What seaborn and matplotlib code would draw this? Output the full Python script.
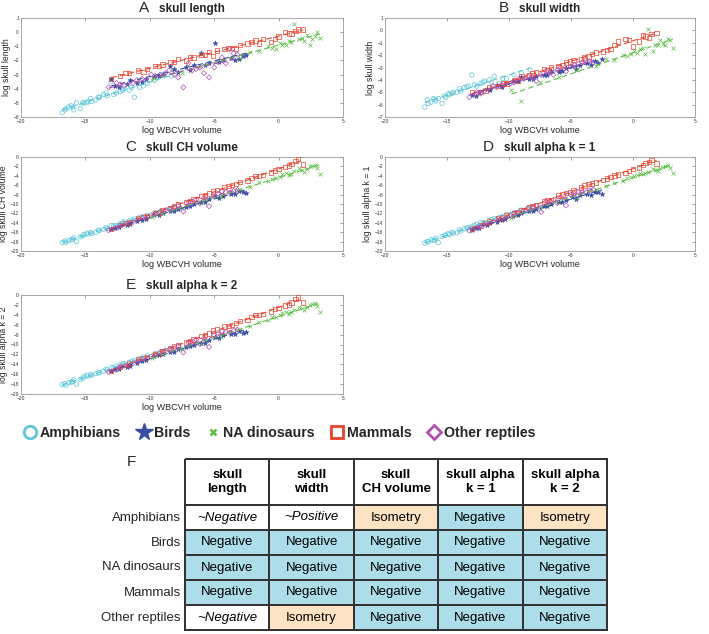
import numpy as np
import pandas as pd
import seaborn as sns
import matplotlib.pyplot as plt
from matplotlib.lines import Line2D
from matplotlib.colors import ListedColormap

sns.set_style("white")
plt.rcParams["font.family"] = ["Liberation Sans", "DejaVu Sans"]

groups = ["Amphibians", "Birds", "NA dinosaurs", "Mammals", "Other reptiles"]
colors = ["#5cc6d6", "#3b4ea6", "#5cbb45", "#e8422b", "#b24fb0"]
markers = ["o", "*", "x", "s", "D"]

panel_letters = ["A", "B", "C", "D", "E"]
panel_names = ["skull length", "skull width", "skull CH volume", "skull alpha k = 1", "skull alpha k = 2"]
panel_ylabels = ["log skull length", "log skull width", "log skull CH volume",
                 "log skull alpha k = 1", "log skull alpha k = 2"]

# log WBCVH volume per group
amph_x = [-16.8, -16.6, -16.3, -16.0, -15.7, -15.4, -15.1, -14.8, -14.5, -14.2, -13.9, -13.6,
          -13.3, -13.0, -12.6, -12.3, -12.0, -11.6, -11.2, -10.8, -10.2, -9.6, -9.0, -8.3,
          -16.5, -16.1, -15.9, -15.2, -14.9, -14.6, -14.0, -13.4, -12.8, -12.1, -11.4, -10.5]
bird_x = [-13.0, -12.4, -11.8, -11.0, -10.3, -9.7, -9.0, -8.4, -7.8, -7.2, -6.6, -6.0,
          -5.4, -4.9, -4.3, -3.7, -3.1, -2.5,
          -12.7, -11.5, -10.6, -9.3, -8.1, -6.9, -5.7, -4.6, -3.4, -2.8]
dino_x = [-9.8, -9.0, -7.5, -6.0, -4.5, -3.0, -2.2, -1.5, -0.8, -0.2, 0.3, 0.8,
          1.2, 1.6, 2.0, 2.4, 2.8, 3.2,
          -0.5, 0.1, 0.6, 1.0, 1.8, 2.2, 2.6, 3.0]
mamm_x = [-13.0, -12.3, -11.6, -10.9, -10.2, -9.6, -9.0, -8.4, -7.8, -7.2, -6.6, -6.0, -5.4,
          -4.8, -4.2, -3.6, -3.0, -2.4, -1.8, -1.2, -0.6, 0.0, 0.5, 1.0, 1.5, 1.9,
          -11.9, -10.5, -9.3, -8.1, -6.9, -5.7, -5.1, -3.9, -3.3, -2.1, -1.5, -0.3, 0.8, 1.3]
rept_x = [-13.2, -12.6, -12.0, -11.3, -10.6, -9.9, -9.2, -8.5, -7.8, -7.4, -7.0, -6.4,
          -5.8, -5.4, -5.0, -4.4, -3.8, -3.2,
          -12.3, -11.0, -9.6, -8.8, -8.1, -6.7, -6.1, -4.7, -4.1, -3.5]

# skull length
amph_len = [-5.7, -5.5, -5.3, -5.3, -5.0, -5.4, -5.0, -4.9, -4.9, -4.8, -4.6, -4.4,
            -4.5, -3.5, -4.3, -4.2, -4.0, -4.1, -4.6, -3.9, -3.6, -3.4, -3.0, -3.1,
            -5.4, -5.2, -5.5, -5.0, -5.0, -4.7, -4.6, -4.3, -4.4, -4.1, -3.9, -3.8]
bird_len = [-3.3, -3.9, -3.7, -3.6, -3.3, -3.2, -3.0, -2.4, -2.8, -2.5, -2.3, -1.5,
            -2.2, -0.8, -2.0, -1.8, -1.9, -1.6,
            -3.8, -3.4, -3.5, -3.1, -2.6, -2.7, -2.3, -2.1, -2.0, -1.7]
dino_len = [-3.4, -3.0, -2.9, -2.4, -2.0, -1.8, -1.4, -1.3, -1.0, -1.2, -0.9, -0.6,
            0.6, -0.5, -0.6, -0.9, -0.3, -0.4,
            -1.1, -0.8, -0.9, -0.7, -0.4, -0.2, -0.5, 0.0]
mamm_len = [-3.3, -3.1, -2.9, -2.7, -2.6, -2.4, -2.3, -2.1, -1.9, -2.0, -1.8, -1.6, -1.4,
            -1.3, -1.2, -1.1, -0.9, -0.8, -0.6, -0.5, -0.7, -0.3, 0.0, -0.1, 0.2, 0.2,
            -2.9, -2.8, -2.4, -2.1, -1.8, -1.6, -1.7, -1.1, -1.2, -0.7, -0.8, -0.5, -0.1, 0.1]
rept_len = [-3.9, -3.6, -3.8, -3.6, -3.3, -3.0, -3.0, -2.7, -3.2, -3.9, -2.2, -2.6,
            -2.9, -3.2, -2.5, -1.8, -1.2, -1.6,
            -3.7, -3.4, -3.1, -2.9, -3.0, -2.7, -2.5, -2.1, -2.2, -1.5]

# skull width
amph_wid = [-6.2, -5.6, -5.8, -5.6, -5.5, -5.9, -5.4, -5.2, -5.0, -5.0, -4.9, -4.6,
            -4.5, -3.6, -4.5, -4.3, -4.1, -4.0, -3.7, -4.3, -3.9, -3.6, -3.4, -3.2,
            -5.9, -5.5, -5.7, -5.3, -5.1, -5.1, -4.7, -4.6, -4.4, -4.2, -4.2, -3.9]
bird_wid = [-5.2, -5.0, -4.7, -4.4, -4.3, -4.1, -3.8, -3.9, -3.7, -3.6, -3.3, -3.4,
            -3.0, -2.9, -2.8, -2.6, -2.5, -2.3,
            -5.3, -4.8, -4.6, -4.1, -3.9, -3.6, -3.3, -3.1, -2.8, -2.6]
dino_wid = [-4.8, -5.7, -4.2, -3.8, -3.2, -2.9, -2.3, -2.4, -2.0, -1.9, -1.8, -1.4,
            0.1, -1.7, -1.2, -1.1, -0.7, -1.4,
            -2.1, -1.7, -1.5, -1.9, -1.2, -0.8, -1.2, -0.8]
mamm_wid = [-5.0, -5.0, -4.6, -4.5, -4.3, -4.0, -3.7, -3.6, -3.4, -3.1, -3.0, -2.9, -2.6,
            -2.4, -2.3, -2.1, -1.8, -1.7, -1.5, -0.9, -0.7, -1.3, -0.9, -0.5, -0.3, -0.2,
            -4.9, -4.3, -4.1, -3.5, -3.2, -2.8, -2.5, -2.2, -1.9, -1.6, -1.2, -0.8, -0.4, -0.6]
rept_wid = [-5.4, -5.0, -4.9, -4.5, -4.4, -4.3, -3.9, -3.7, -4.1, -3.6, -3.3, -3.6,
            -3.0, -3.3, -2.9, -2.7, -2.4, -2.6,
            -5.1, -4.6, -4.2, -3.9, -3.8, -3.4, -3.2, -2.8, -2.6, -2.5]

# skull CH volume
amph_ch = [-18.2, -17.9, -17.8, -17.5, -18.0, -17.0, -16.5, -16.4, -16.3, -16.0, -15.6, -15.4,
           -15.2, -14.6, -14.5, -14.2, -13.8, -13.6, -13.2, -12.8, -12.4, -11.8, -11.5, -10.9,
           -18.1, -17.6, -17.2, -16.8, -16.2, -16.1, -15.6, -15.0, -14.6, -14.0, -13.4, -12.6]
bird_ch = [-15.4, -14.9, -14.5, -13.7, -13.1, -12.4, -11.9, -11.5, -11.0, -10.6, -10.0, -9.6,
           -9.0, -8.4, -8.2, -7.8, -7.3, -7.6,
           -15.1, -14.2, -13.4, -12.3, -11.5, -10.4, -9.6, -8.8, -7.9, -7.5]
dino_ch = [-12.8, -12.0, -10.9, -9.6, -8.5, -7.1, -6.3, -5.4, -5.0, -4.5, -3.6, -3.9,
           -3.0, -2.4, -3.2, -2.0, -1.6, -3.6,
           -4.6, -4.2, -3.3, -3.6, -2.7, -2.5, -1.9, -2.3]
mamm_ch = [-15.3, -14.5, -13.8, -13.0, -12.5, -11.9, -11.4, -10.8, -10.1, -9.6, -9.0, -8.3, -7.8,
           -7.0, -6.4, -6.0, -5.3, -5.0, -4.1, -3.8, -3.3, -2.6, -2.1, -1.5, -0.4, -1.6,
           -14.1, -12.8, -11.8, -10.4, -9.3, -8.1, -7.3, -6.2, -5.7, -4.5, -4.0, -2.9, -1.8, -0.9]
rept_ch = [-15.6, -15.1, -14.3, -13.8, -12.9, -12.4, -11.6, -11.0, -10.3, -11.6, -9.6, -9.0,
           -8.7, -10.5, -8.1, -7.3, -7.6, -7.0,
           -14.6, -13.4, -12.1, -11.3, -10.8, -9.5, -9.9, -7.8, -7.5, -7.2]

# skull alpha k = 1
amph_k1 = [-18.3, -18.0, -17.6, -17.7, -18.2, -16.9, -16.6, -16.5, -16.2, -16.1, -15.8, -15.3,
           -15.0, -14.8, -14.3, -14.0, -13.9, -13.5, -13.1, -12.9, -12.2, -11.9, -11.3, -10.8,
           -18.0, -17.7, -17.3, -16.7, -16.3, -16.0, -15.5, -15.1, -14.5, -14.1, -13.3, -12.7]
bird_k1 = [-15.5, -15.0, -14.4, -13.8, -13.2, -12.5, -12.0, -11.4, -11.1, -10.5, -10.1, -9.5,
           -9.1, -8.6, -8.0, -7.9, -7.4, -7.8,
           -15.2, -14.1, -13.5, -12.4, -11.4, -10.5, -9.5, -8.9, -8.0, -7.4]
dino_k1 = [-12.9, -11.8, -11.0, -9.5, -8.6, -7.0, -6.2, -5.6, -5.1, -4.3, -3.8, -3.7,
           -3.2, -2.6, -3.0, -2.1, -1.8, -3.4,
           -4.4, -4.1, -3.5, -3.4, -2.8, -2.3, -2.0, -2.4]
mamm_k1 = [-15.2, -14.6, -13.7, -13.1, -12.4, -12.0, -11.3, -10.7, -10.2, -9.5, -9.1, -8.2, -7.7,
           -7.1, -6.5, -5.8, -5.4, -4.9, -4.2, -3.7, -3.4, -2.5, -2.2, -1.3, -0.6, -1.4,
           -14.0, -12.9, -11.7, -10.5, -9.2, -8.0, -7.4, -6.1, -5.6, -4.6, -3.9, -3.0, -1.7, -1.0]
rept_k1 = [-15.7, -15.0, -14.4, -13.7, -13.0, -12.3, -11.7, -10.9, -10.4, -11.7, -9.5, -9.1,
           -8.6, -10.3, -8.0, -7.4, -7.5, -6.9,
           -14.7, -13.3, -12.0, -11.4, -10.7, -9.4, -9.8, -7.9, -7.4, -7.1]

# skull alpha k = 2
amph_k2 = [-18.1, -17.9, -17.7, -17.5, -18.0, -17.1, -16.5, -16.4, -16.2, -15.9, -15.7, -15.4,
           -15.1, -14.7, -14.4, -14.1, -13.8, -13.6, -13.2, -12.8, -12.3, -11.8, -11.4, -10.9,
           -18.2, -17.6, -17.1, -16.8, -16.2, -16.1, -15.7, -15.0, -14.7, -13.9, -13.4, -12.5]
bird_k2 = [-15.4, -14.9, -14.5, -13.7, -13.1, -12.4, -11.9, -11.5, -11.0, -10.6, -10.0, -9.6,
           -9.0, -8.5, -8.1, -7.8, -7.3, -7.5,
           -15.0, -14.3, -13.3, -12.2, -11.5, -10.3, -9.7, -8.7, -7.8, -7.6]
dino_k2 = [-12.8, -11.9, -10.9, -9.6, -8.4, -7.1, -6.3, -5.5, -5.0, -4.4, -3.7, -3.8,
           -3.1, -2.5, -3.1, -2.0, -1.7, -3.5,
           -4.5, -4.0, -3.4, -3.5, -2.6, -2.4, -1.9, -2.2]
mamm_k2 = [-15.3, -14.5, -13.8, -13.0, -12.5, -11.9, -11.4, -10.8, -10.1, -9.6, -9.0, -8.3, -7.8,
           -7.0, -6.4, -6.0, -5.3, -5.0, -4.1, -3.8, -3.3, -2.6, -2.1, -1.5, -0.5, -1.5,
           -14.2, -12.7, -11.8, -10.3, -9.3, -8.1, -7.2, -6.3, -5.7, -4.4, -4.0, -2.8, -1.9, -0.8]
rept_k2 = [-15.6, -15.1, -14.3, -13.8, -12.9, -12.4, -11.6, -11.0, -10.3, -11.6, -9.6, -9.0,
           -8.7, -10.5, -8.1, -7.3, -7.6, -7.0,
           -14.5, -13.4, -12.2, -11.2, -10.8, -9.6, -9.9, -7.7, -7.5, -7.2]

# table F
table_cols = ["skull\nlength", "skull\nwidth", "skull\nCH volume", "skull alpha\nk = 1", "skull alpha\nk = 2"]
table_amph = ["~Negative", "~Positive", "Isometry", "Negative", "Isometry"]
table_bird = ["Negative", "Negative", "Negative", "Negative", "Negative"]
table_dino = ["Negative", "Negative", "Negative", "Negative", "Negative"]
table_mamm = ["Negative", "Negative", "Negative", "Negative", "Negative"]
table_rept = ["~Negative", "Isometry", "Negative", "Negative", "Negative"]

xs = [amph_x, bird_x, dino_x, mamm_x, rept_x]
ys = [
    [amph_len, bird_len, dino_len, mamm_len, rept_len],
    [amph_wid, bird_wid, dino_wid, mamm_wid, rept_wid],
    [amph_ch, bird_ch, dino_ch, mamm_ch, rept_ch],
    [amph_k1, bird_k1, dino_k1, mamm_k1, rept_k1],
    [amph_k2, bird_k2, dino_k2, mamm_k2, rept_k2],
]
ylims = [(-6, 1), (-7, 1), (-20, 0), (-20, 0), (-20, 0)]
yticks = [range(-6, 2), range(-7, 2), range(-20, 1, 2), range(-20, 1, 2), range(-20, 1, 2)]

W, H = 709, 634
def box(l, t, r, b):
    return [l / W, 1 - b / H, (r - l) / W, (b - t) / H]

fig = plt.figure(figsize=(7.09, 6.34), dpi=100)
axes_pos = [box(21, 18, 343, 117), box(385, 18, 695, 117),
            box(21, 157, 343, 251), box(385, 157, 695, 251),
            box(21, 295, 343, 394)]

for p in range(5):
    ax = fig.add_axes(axes_pos[p])
    for g in range(5):
        d = pd.DataFrame({"x": xs[g], "y": ys[p][g]})
        if markers[g] in ("x", "*"):
            ax.scatter(d["x"], d["y"], marker=markers[g], s=8 if markers[g] == "x" else 12,
                       color=colors[g], linewidths=0.5, zorder=3)
        else:
            ax.scatter(d["x"], d["y"], marker=markers[g], s=10 if markers[g] != "D" else 7,
                       facecolors="none", edgecolors=colors[g], linewidths=0.5, zorder=3)
        sns.regplot(data=d, x="x", y="y", ax=ax, scatter=False, ci=None, color=colors[g],
                    line_kws={"ls": (0, (5, 3)), "lw": 0.8, "zorder": 4})
    ax.set_xlim(-20, 5)
    ax.set_ylim(*ylims[p])
    ax.set_xticks(range(-20, 6, 5))
    ax.set_yticks(list(yticks[p]))
    ax.tick_params(direction="in", length=2, width=0.4, labelsize=3.5, pad=1.5,
                   top=True, right=True, colors="#555555", labelcolor="#333333")
    for s in ax.spines.values():
        s.set_color("#999999")
        s.set_linewidth(0.6)
    ax.set_xlabel("log WBCVH volume", fontsize=6.5, labelpad=1.5)
    ax.set_ylabel(panel_ylabels[p], fontsize=6.2, labelpad=2)
    t = ax.text(0.53, 1.03, panel_names[p], transform=ax.transAxes, ha="center", va="bottom",
                fontsize=8.5, fontweight="bold")
    ax.annotate(panel_letters[p], xy=(0, 0), xycoords=t, xytext=(-7, 0),
                textcoords="offset points", ha="right", va="bottom", fontsize=11)

# legend
handles = []
for g in range(5):
    if markers[g] == "*":
        h = Line2D([], [], ls="none", marker="*", ms=13, color=colors[g])
    elif markers[g] == "x":
        h = Line2D([], [], ls="none", marker="x", ms=5, mew=1.8, color=colors[g])
    else:
        h = Line2D([], [], ls="none", marker=markers[g], ms=9 if markers[g] != "D" else 7,
                   mfc="none", mec=colors[g], mew=2)
    handles.append(h)
fig.legend(handles, groups, loc="center", bbox_to_anchor=(0.394, 1 - 433 / H), ncol=5,
           frameon=False, handletextpad=0.2, columnspacing=1.1, handlelength=1.0,
           prop={"weight": "bold", "size": 10.2})

# table F
cat = {"Negative": 0, "Isometry": 1}
body = [table_amph, table_bird, table_dino, table_mamm, table_rept]
vals = np.array([[cat.get(v, 2) for v in row] for row in body])
cmap = ListedColormap(["#acdde9", "#fce3c3", "#ffffff"])

hax = fig.add_axes(box(185, 459, 607, 505))
sns.heatmap(np.full((1, 5), 2), ax=hax, cmap=cmap, vmin=-0.5, vmax=2.5, cbar=False,
            annot=np.array([table_cols]), fmt="", linewidths=1.3, linecolor="#333333",
            annot_kws={"fontsize": 9.5, "fontweight": "bold", "color": "black"},
            xticklabels=False, yticklabels=False)
hax.collections[0].set_clip_on(False)

bax = fig.add_axes(box(185, 505, 607, 630))
sns.heatmap(vals, ax=bax, cmap=cmap, vmin=-0.5, vmax=2.5, cbar=False,
            annot=np.array(body), fmt="", linewidths=1.3, linecolor="#333333",
            annot_kws={"fontsize": 9.5, "color": "black"},
            xticklabels=False, yticklabels=groups)
bax.collections[0].set_clip_on(False)
for txt in bax.texts:
    if txt.get_text().startswith("~"):
        txt.set_style("italic")
bax.tick_params(axis="y", length=0, pad=3, labelsize=9.5, rotation=0)

fig.text(131 / W, 1 - 462 / H, "F", fontsize=11, ha="center", va="center")

fig.savefig("out.png", dpi=100)
